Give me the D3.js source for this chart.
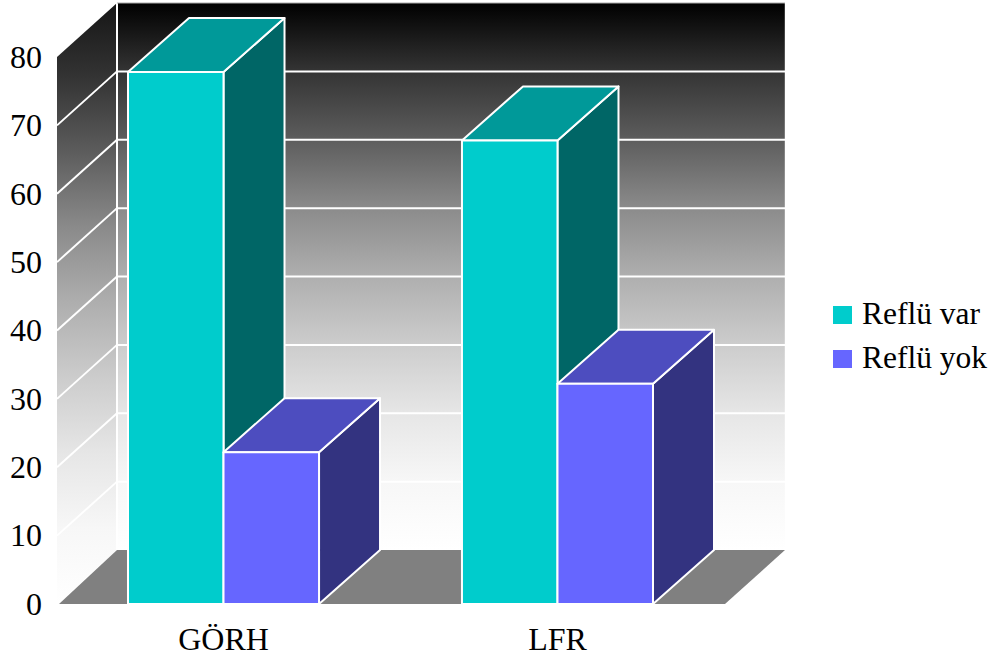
<!DOCTYPE html>
<html>
<head>
<meta charset="utf-8">
<title>Reflü</title>
<script src="https://cdn.jsdelivr.net/npm/d3@7"></script>
<style>
  html, body { margin: 0; padding: 0; background: #fff; }
  svg { display: block; }
  text { font-family: "Liberation Serif", "Times New Roman", serif; fill: #000; }
</style>
</head>
<body>
<div id="chart"></div>
<script>
const categories = ["GÖRH", "LFR"];
const seriesNames = ["Reflü var", "Reflü yok"];
const refluVar = [77.8, 67.8];
const refluYok = [22.2, 32.2];
const yTicks = [0, 10, 20, 30, 40, 50, 60, 70, 80];

// front, top and side faces of each series
const frontColors = ["#00cccc", "#6666ff"];
const topColors = ["#009999", "#4d4dbf"];
const sideColors = ["#006666", "#333380"];

// wall shading, dark at the top and fading out towards the floor
const wallStops = [[0.122, "#333333"], [0.247, "#5c5c5c"], [0.372, "#8a8a8a"], [0.498, "#aeaeae"],
  [0.623, "#cccccc"], [0.749, "#e6e6e6"], [0.875, "#f7f7f7"], [1, "#ffffff"]];

const W = 997, H = 664;
const wallDx = 60, wallDy = -54;   // floor depth
const barDx = 61, barDy = -54;     // bar depth
const floorLeft = 57, floorRight = 725;

const svg = d3.select("#chart").append("svg")
  .attr("width", W)
  .attr("height", H);

const y = d3.scaleLinear().domain([0, 80]).range([604, 57]);

const x0 = d3.scaleBand().domain(categories).range([60, 721])
  .paddingInner(0.428).paddingOuter(0.2036);
const x1 = d3.scaleBand().domain(d3.range(seriesNames.length))
  .range([0, x0.bandwidth()]);

const poly = pts => pts.map(p => p.join(",")).join(" ");

// wall gradients
const defs = svg.append("defs");
function wallGradient(id, y1, y2, first) {
  const g = defs.append("linearGradient").attr("id", id)
    .attr("gradientUnits", "userSpaceOnUse")
    .attr("x1", 0).attr("x2", 0).attr("y1", y1).attr("y2", y2);
  [[0, first]].concat(wallStops).forEach(s => g.append("stop").attr("offset", s[0]).attr("stop-color", s[1]));
}
const backX = floorLeft + wallDx, backRight = floorRight + wallDx;
const backTop = y(80) + wallDy, backBottom = y(0) + wallDy;
wallGradient("backWall", backTop, backBottom, "#000000");
wallGradient("sideWall", backTop, y(0), "#161616");

svg.append("rect")
  .attr("x", backX).attr("y", backTop)
  .attr("width", backRight - backX).attr("height", backBottom - backTop)
  .attr("fill", "url(#backWall)");

svg.append("polygon")
  .attr("points", poly([[floorLeft, y(80)], [backX, backTop], [backX, backBottom], [floorLeft, y(0)]]))
  .attr("fill", "url(#sideWall)");

// floor
svg.append("polygon")
  .attr("points", poly([[floorLeft + 2, y(0)], [backX, backBottom], [backRight, backBottom], [floorRight, y(0)]]))
  .attr("fill", "#808080");

// grid lines on both walls
svg.append("g").selectAll("line.back")
  .data(yTicks.filter(d => d > 0 && d < 80))
  .enter().append("line")
  .attr("x1", backX).attr("x2", backRight)
  .attr("y1", d => y(d) + wallDy).attr("y2", d => y(d) + wallDy)
  .attr("stroke", "#fff").attr("stroke-width", 2);

svg.append("g").selectAll("line.side")
  .data(yTicks.filter(d => d > 0 && d < 80))
  .enter().append("line")
  .attr("x1", floorLeft).attr("x2", backX)
  .attr("y1", d => y(d)).attr("y2", d => y(d) + wallDy)
  .attr("stroke", "#fff").attr("stroke-width", 2);

svg.append("line")
  .attr("x1", backX).attr("x2", backX)
  .attr("y1", backTop).attr("y2", backBottom)
  .attr("stroke", "#fff").attr("stroke-width", 2);

svg.append("line")
  .attr("x1", backX).attr("x2", backRight)
  .attr("y1", backTop).attr("y2", backTop)
  .attr("stroke", "#aaa").attr("stroke-width", 1);

svg.append("line")
  .attr("x1", backRight).attr("x2", backRight)
  .attr("y1", backTop).attr("y2", backBottom)
  .attr("stroke", "#fff").attr("stroke-opacity", 0.4).attr("stroke-width", 1);

// bars
const seriesValues = [refluVar, refluYok];
categories.forEach((cat, c) => {
  seriesValues.forEach((values, s) => {
    const left = x0(cat) + x1(s);
    const right = left + x1.bandwidth();
    const top = y(values[c]);
    const base = y(0);
    const g = svg.append("g")
      .attr("stroke", "#fff").attr("stroke-width", 2).attr("stroke-linejoin", "round");

    g.append("polygon")
      .attr("points", poly([[right, top], [right + barDx, top + barDy], [right + barDx, base + barDy], [right, base]]))
      .attr("fill", sideColors[s]);
    g.append("polygon")
      .attr("points", poly([[left, top], [left + barDx, top + barDy], [right + barDx, top + barDy], [right, top]]))
      .attr("fill", topColors[s]);
    g.append("rect")
      .attr("x", left).attr("y", top)
      .attr("width", right - left).attr("height", base - top)
      .attr("fill", frontColors[s]);
  });
});

// axes
const yAxis = d3.axisLeft(y).tickValues(yTicks).tickSize(0).tickPadding(0);
const yG = svg.append("g").attr("transform", "translate(42,0)").call(yAxis);
yG.select(".domain").remove();
yG.selectAll("text").style("font-size", "32px")
  .style("font-family", "'Liberation Serif', serif").attr("fill", "#000");

const xAxis = d3.axisBottom(x0).tickSize(0).tickPadding(0);
const xG = svg.append("g").attr("transform", "translate(0,627)").call(xAxis);
xG.select(".domain").remove();
xG.selectAll("text").style("font-size", "32px")
  .style("font-family", "'Liberation Serif', serif").attr("fill", "#000");

// legend
const legend = svg.append("g").selectAll("g")
  .data(seriesNames)
  .enter().append("g")
  .attr("transform", (d, i) => `translate(833,${306 + i * 44})`);

legend.append("rect")
  .attr("width", 19).attr("height", 18)
  .attr("fill", (d, i) => frontColors[i]);

legend.append("text")
  .attr("x", 29).attr("y", 18)
  .style("font-size", "31.5px")
  .text(d => d);
</script>
</body>
</html>
